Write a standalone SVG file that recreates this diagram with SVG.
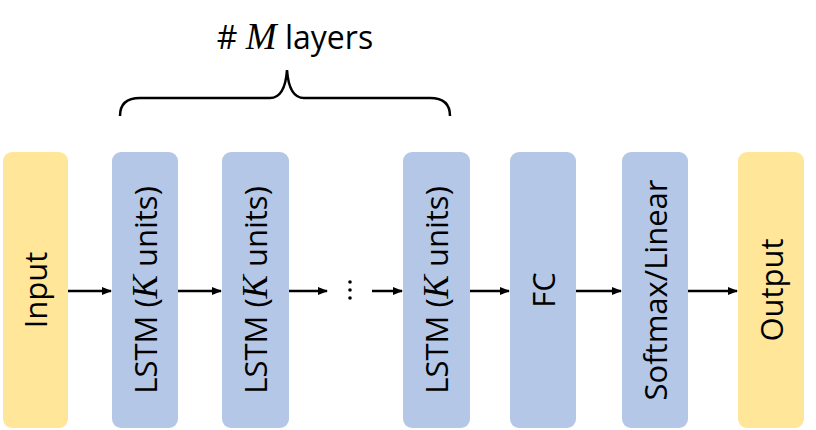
<svg xmlns="http://www.w3.org/2000/svg" width="816" height="430" viewBox="0 0 816 430">
<defs>
<marker id="ah" markerWidth="10" markerHeight="8" refX="9" refY="4" orient="auto" markerUnits="userSpaceOnUse"><path d="M0,0 L10,4 L0,8 Z" fill="#000"/></marker>
<style>
.y{fill:#ffe699}.b{fill:#b4c7e7}
.t{font-family:"Open Sans","DejaVu Sans",sans-serif;font-size:31px;fill:#000;text-anchor:middle;dominant-baseline:central}
.m{font-family:"Liberation Serif",serif;font-style:italic}
.c{stroke:#000;stroke-width:2.5;fill:none;marker-end:url(#ah)}
</style>
</defs>
<rect width="816" height="430" fill="#fff"/>
<g id="label"><text x="295" y="36" class="t" style="font-size:32px"># <tspan class="m" style="font-size:37px">M</tspan> layers</text>
<path d="M120,116 Q120,98 140,98 L270,98 Q285,98 287,70 Q289,98 304,98 L430,98 Q450,98 450,116" stroke="#000" stroke-width="2.5" fill="none"/></g>
<g id="input"><rect x="3" y="152" width="65" height="276" rx="9" class="y"/><text class="t" transform="translate(35,290) rotate(-90)">Input</text></g>
<g id="lstm1"><rect x="112" y="152" width="66" height="276" rx="9" class="b"/><text class="t" transform="translate(145,290) rotate(-90)">LSTM (<tspan class="m" style="font-size:35px">K</tspan> units)</text></g>
<g id="lstm2"><rect x="222" y="152" width="67" height="276" rx="9" class="b"/><text class="t" transform="translate(255,290) rotate(-90)">LSTM (<tspan class="m" style="font-size:35px">K</tspan> units)</text></g>
<g id="dots"><circle cx="350" cy="282" r="1.8"/><circle cx="350" cy="290" r="1.8"/><circle cx="350" cy="298" r="1.8"/></g>
<g id="lstm3"><rect x="403" y="152" width="67" height="276" rx="9" class="b"/><text class="t" transform="translate(436,290) rotate(-90)">LSTM (<tspan class="m" style="font-size:35px">K</tspan> units)</text></g>
<g id="fc"><rect x="510" y="152" width="66" height="276" rx="9" class="b"/><text class="t" transform="translate(543,290) rotate(-90)">FC</text></g>
<g id="softmax"><rect x="622" y="152" width="66" height="276" rx="9" class="b"/><text class="t" transform="translate(655,290) rotate(-90)">Softmax/Linear</text></g>
<g id="output"><rect x="738" y="152" width="66" height="276" rx="9" class="y"/><text class="t" transform="translate(771,290) rotate(-90)">Output</text></g>
<g id="connectors">
<line x1="68" y1="291" x2="111" y2="291" class="c"/>
<line x1="178" y1="291" x2="221" y2="291" class="c"/>
<line x1="289" y1="291" x2="327" y2="291" class="c"/>
<line x1="372" y1="291" x2="402" y2="291" class="c"/>
<line x1="470" y1="291" x2="509" y2="291" class="c"/>
<line x1="576" y1="291" x2="621" y2="291" class="c"/>
<line x1="688" y1="291" x2="737" y2="291" class="c"/>
</g>
</svg>
